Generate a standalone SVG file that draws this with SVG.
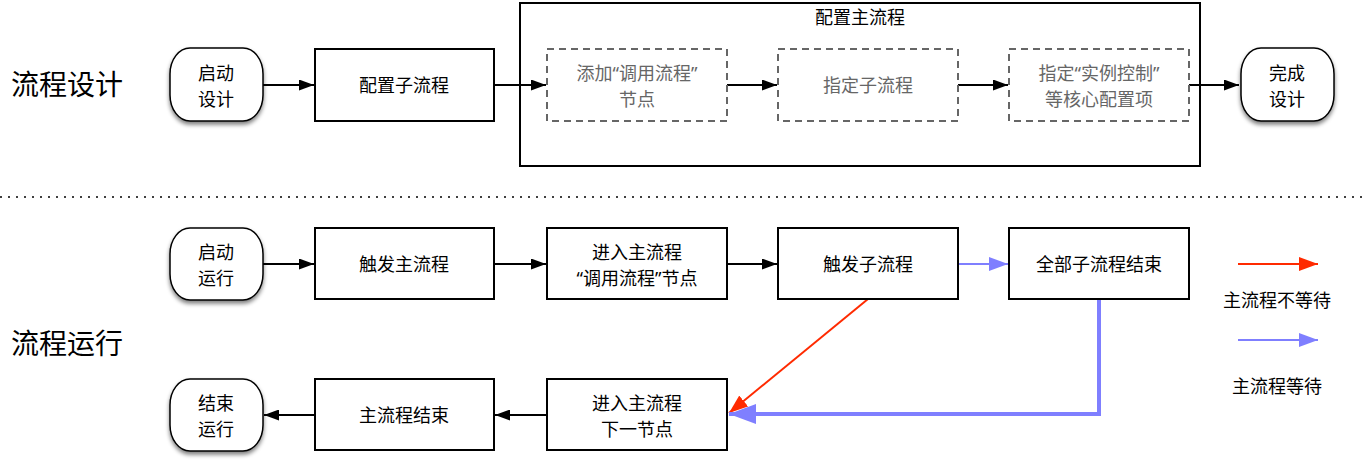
<svg xmlns="http://www.w3.org/2000/svg" width="1364" height="462" viewBox="0 0 1364 462">
<style>
text{font-family:"Noto Sans","Noto Sans CJK SC",sans-serif;font-size:18px;fill:#000;text-anchor:middle;dominant-baseline:central}
.sec{font-size:28px}
.box{fill:#fff;stroke:#000;stroke-width:2}
.dash{fill:#fff;stroke:#666;stroke-width:2;stroke-dasharray:7 5}
.gray{fill:#666}
.term{fill:#fff;stroke:#000;stroke-width:1.5}
.ln{fill:none;stroke:#000;stroke-width:2}
</style>
<defs>
<marker id="ab" viewBox="0 0 15 11" refX="15" refY="5.5" markerWidth="15" markerHeight="11" markerUnits="userSpaceOnUse" orient="auto"><path d="M0,0L15,5.5L0,11z" fill="#000"/></marker>
<marker id="ar" viewBox="0 0 19 14" refX="19" refY="7" markerWidth="19" markerHeight="14" markerUnits="userSpaceOnUse" orient="auto"><path d="M0,0L19,7L0,14z" fill="#ff2a00"/></marker>
<marker id="abl" viewBox="0 0 19 14" refX="19" refY="7" markerWidth="19" markerHeight="14" markerUnits="userSpaceOnUse" orient="auto"><path d="M0,0L19,7L0,14z" fill="#7f7fff"/></marker>
<marker id="ablb" viewBox="0 0 27 20" refX="27" refY="10" markerWidth="27" markerHeight="20" markerUnits="userSpaceOnUse" orient="auto"><path d="M0,0L27,10L0,20z" fill="#7f7fff"/></marker>
<filter id="sh" x="-20%" y="-20%" width="140%" height="150%"><feGaussianBlur in="SourceAlpha" stdDeviation="2"/><feOffset dx="0" dy="3"/><feComponentTransfer><feFuncA type="linear" slope="0.5"/></feComponentTransfer><feMerge><feMergeNode/><feMergeNode in="SourceGraphic"/></feMerge></filter>
</defs>
<text class="sec" x="67" y="84">流程设计</text>
<text class="sec" x="67" y="343">流程运行</text>
<line x1="0" y1="197" x2="1364" y2="197" stroke="#000" stroke-width="1.5" stroke-dasharray="2 6"/>
<g id="container">
<rect x="520" y="3" width="680" height="163" fill="#fff" stroke="#000" stroke-width="2"/>
<text x="860" y="17">配置主流程</text>
</g>
<g id="connectors">
<path class="ln" d="M263,85H314" marker-end="url(#ab)"/>
<path class="ln" d="M494,85H546" marker-end="url(#ab)"/>
<path class="ln" d="M727,85H777" marker-end="url(#ab)"/>
<path class="ln" d="M958,85H1008" marker-end="url(#ab)"/>
<path class="ln" d="M1189,85H1239" marker-end="url(#ab)"/>
<path class="ln" d="M263,264H314" marker-end="url(#ab)"/>
<path class="ln" d="M494,264H546" marker-end="url(#ab)"/>
<path class="ln" d="M727,264H777" marker-end="url(#ab)"/>
<path d="M958,264H1008" fill="none" stroke="#7f7fff" stroke-width="2" marker-end="url(#abl)"/>
<path d="M868,299L729,413" fill="none" stroke="#ff2a00" stroke-width="2" marker-end="url(#ar)"/>
<path d="M1099,299V414H729" fill="none" stroke="#7f7fff" stroke-width="4" marker-end="url(#ablb)"/>
<path class="ln" d="M546,415H495" marker-end="url(#ab)"/>
<path class="ln" d="M315,415H264" marker-end="url(#ab)"/>
</g>
<g id="n-start-design"><rect class="term" filter="url(#sh)" x="170" y="48" width="93" height="73" rx="20" ry="26"/><text x="216" y="73">启动</text><text x="216" y="99">设计</text></g>
<g id="n-sub"><rect class="box" x="315" y="49" width="179" height="72"/><text x="404" y="85">配置子流程</text></g>
<g id="n-add"><rect class="dash" x="547" y="49" width="180" height="72"/><text class="gray" x="637" y="73">添加“调用流程”</text><text class="gray" x="637" y="99">节点</text></g>
<g id="n-spec"><rect class="dash" x="778" y="49" width="180" height="72"/><text class="gray" x="868" y="85">指定子流程</text></g>
<g id="n-ctrl"><rect class="dash" x="1009" y="49" width="180" height="72"/><text class="gray" x="1099" y="73">指定“实例控制”</text><text class="gray" x="1099" y="99">等核心配置项</text></g>
<g id="n-done"><rect class="term" filter="url(#sh)" x="1241" y="48" width="93" height="73" rx="20" ry="26"/><text x="1287" y="73">完成</text><text x="1287" y="99">设计</text></g>
<g id="n-start-run"><rect class="term" filter="url(#sh)" x="170" y="228" width="93" height="72" rx="20" ry="26"/><text x="216" y="252">启动</text><text x="216" y="278">运行</text></g>
<g id="n-trig-main"><rect class="box" x="315" y="228" width="179" height="71"/><text x="404" y="264">触发主流程</text></g>
<g id="n-enter-call"><rect class="box" x="547" y="228" width="180" height="71"/><text x="637" y="252">进入主流程</text><text x="637" y="278">“调用流程”节点</text></g>
<g id="n-trig-sub"><rect class="box" x="778" y="228" width="180" height="71"/><text x="868" y="264">触发子流程</text></g>
<g id="n-all-end"><rect class="box" x="1009" y="228" width="180" height="71"/><text x="1099" y="264">全部子流程结束</text></g>
<g id="n-end-run"><rect class="term" filter="url(#sh)" x="170" y="379" width="93" height="72" rx="20" ry="26"/><text x="216" y="403">结束</text><text x="216" y="429">运行</text></g>
<g id="n-main-end"><rect class="box" x="315" y="379" width="179" height="71"/><text x="404" y="415">主流程结束</text></g>
<g id="n-next"><rect class="box" x="547" y="379" width="180" height="71"/><text x="637" y="403">进入主流程</text><text x="637" y="429">下一节点</text></g>
<g id="legend">
<path d="M1238,264H1318" fill="none" stroke="#ff2a00" stroke-width="2" marker-end="url(#ar)"/>
<text x="1277" y="300">主流程不等待</text>
<path d="M1238,340H1318" fill="none" stroke="#7f7fff" stroke-width="2" marker-end="url(#abl)"/>
<text x="1277" y="386">主流程等待</text>
</g>
</svg>
